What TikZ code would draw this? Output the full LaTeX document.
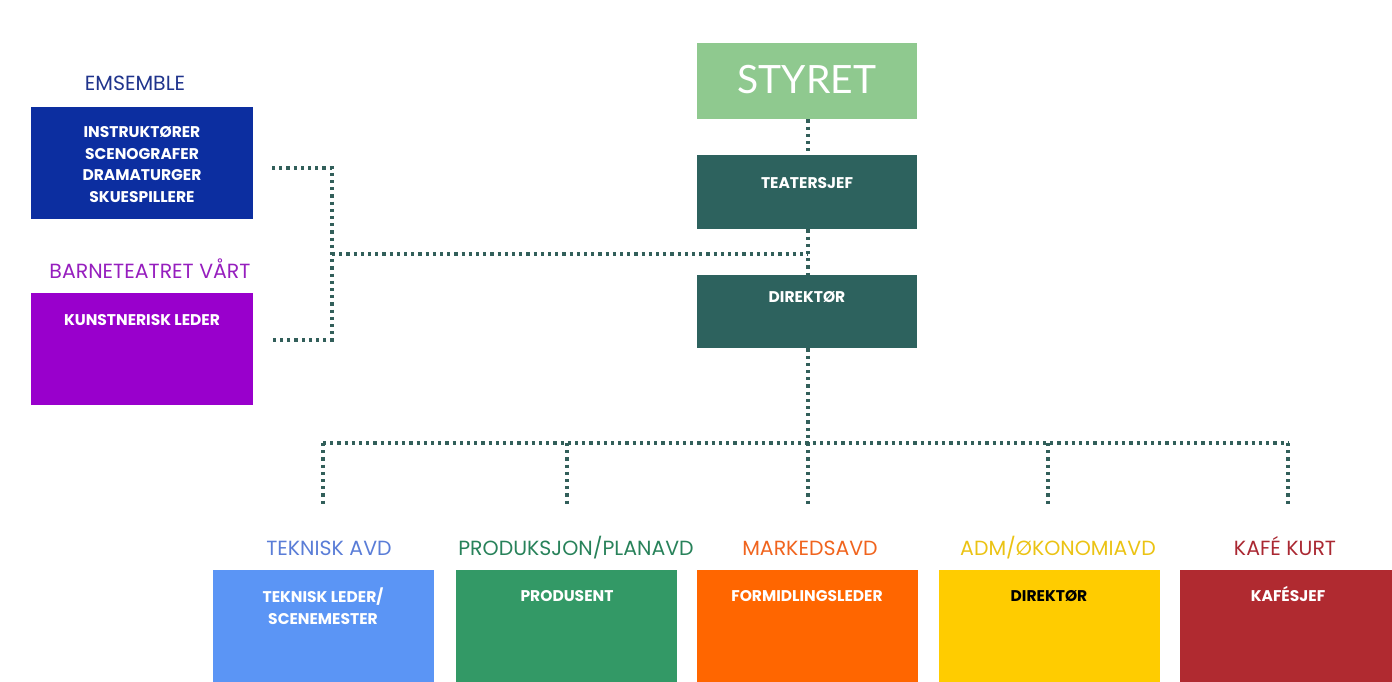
\documentclass[tikz,border=0pt]{standalone}
\usepackage{fontspec}
\setmainfont{Poppins}
\newfontfamily\latofont{Lato}
\definecolor{ensblue}{RGB}{12,46,160}
\definecolor{enslab}{RGB}{32,52,140}
\definecolor{purp}{RGB}{153,0,204}
\definecolor{purplab}{RGB}{150,30,190}
\definecolor{styr}{RGB}{143,201,143}
\definecolor{teal}{RGB}{45,98,94}
\definecolor{dotc}{RGB}{50,95,90}
\definecolor{tblue}{RGB}{91,149,245}
\definecolor{tbluelab}{RGB}{90,125,215}
\definecolor{pgreen}{RGB}{51,153,102}
\definecolor{pgreenlab}{RGB}{40,130,90}
\definecolor{morange}{RGB}{255,102,0}
\definecolor{moranglab}{RGB}{240,100,30}
\definecolor{ayellow}{RGB}{255,204,0}
\definecolor{ayellab}{RGB}{235,195,20}
\definecolor{kred}{RGB}{176,42,48}
\definecolor{kredlab}{RGB}{170,40,50}
\tikzset{
  box/.style={rectangle, inner sep=0pt, minimum width=221pt, anchor=north west},
  boxtext/.style={anchor=center, inner sep=0pt, align=center, text=white, font=\fontsize{15.5}{21.7}\selectfont\bfseries, text height=10.8pt, text depth=0pt},
  multitext/.style={anchor=center, inner sep=0pt, align=center, text=white, font=\fontsize{15.5}{21.7}\selectfont\bfseries},
  headlab/.style={inner sep=0pt, anchor=center, font=\fontsize{20.5}{22}\selectfont, text height=14pt, text depth=0pt},
  dotline/.style={draw=dotc, line width=3.2pt, dash pattern=on 3.2pt off 4pt},
}
\begin{document}
\begin{tikzpicture}[x=1pt,y=-1pt]
\useasboundingbox (0,0) rectangle (1392,682);
% left groups
\node[headlab, text=enslab] (enslab) at (135,84) {EMSEMBLE};
\node[box, fill=ensblue, minimum width=222pt, minimum height=112pt] (ens) at (31,107) {};
\node[multitext] (enstext) at (142,164.5) {INSTRUKTØRER\\SCENOGRAFER\\DRAMATURGER\\SKUESPILLERE};
\node[headlab, text=purplab] (barnlab) at (150,271) {BARNETEATRET VÅRT};
\node[box, fill=purp, minimum width=222pt, minimum height=112pt] (barn) at (31,293) {};
\node[boxtext] (barntext) at (142,320) {KUNSTNERISK LEDER};
% centre column
\node[box, fill=styr, minimum width=220pt, minimum height=76pt] (styret) at (697,43) {};
\node[inner sep=0pt, text=white, font=\latofont\fontsize{39}{40}\selectfont, text height=28pt, text depth=0pt] (styrettext) at (807,80) {STYRET};
\node[box, fill=teal, minimum width=220pt, minimum height=74pt] (teater) at (697,155) {};
\node[boxtext] (teatertext) at (807,183) {TEATERSJEF};
\node[box, fill=teal, minimum width=220pt, minimum height=73pt] (dir) at (697,275) {};
\node[boxtext] (dirtext) at (807,297) {DIREKTØR};
% bottom departments
\node[box, fill=tblue, minimum width=221pt, minimum height=112pt] (tek) at (213,570) {};
\node[box, fill=pgreen, minimum width=221pt, minimum height=112pt] (prod) at (456,570) {};
\node[box, fill=morange, minimum width=221pt, minimum height=112pt] (mark) at (697,570) {};
\node[box, fill=ayellow, minimum width=221pt, minimum height=112pt] (adm) at (939,570) {};
\node[box, fill=kred, minimum width=212pt, minimum height=112pt] (kafe) at (1180,570) {};
\node[headlab, text=tbluelab] (teklab) at (329,548) {TEKNISK AVD};
\node[headlab, text=pgreenlab] (prodlab) at (576,548) {PRODUKSJON/PLANAVD};
\node[headlab, text=moranglab] (marklab) at (810,548) {MARKEDSAVD};
\node[headlab, text=ayellab] (admlab) at (1058,548) {ADM/ØKONOMIAVD};
\node[headlab, text=kredlab] (kafelab) at (1285,548) {KAFÉ KURT};
\node[multitext] (tektext) at (323,606) {TEKNISK LEDER/\\SCENEMESTER};
\node[boxtext] (prodtext) at (567,596) {PRODUSENT};
\node[boxtext] (marktext) at (807,596) {FORMIDLINGSLEDER};
\node[boxtext, text=black] (admtext) at (1049,596) {DIREKTØR};
\node[boxtext] (kafetext) at (1288,596) {KAFÉSJEF};
% connector coordinates
\coordinate (bl1) at (272,168);
\coordinate (bl2) at (332,168);
\coordinate (bl3) at (332,340);
\coordinate (bl4) at (272,340);
\coordinate (blm) at (332,254);
\coordinate (cm) at (808,254);
\coordinate (hub) at (808,443);
\coordinate (h1) at (323,443);
\coordinate (h2) at (567,443);
\coordinate (h4) at (1048,443);
\coordinate (h5) at (1288,443);
\coordinate (d1) at (323,505);
\coordinate (d2) at (567,505);
\coordinate (d3) at (808,505);
\coordinate (d4) at (1048,505);
\coordinate (d5) at (1288,505);
% connectors
\draw[dotline] (bl1) -- (bl2) -- (bl3) -- (bl4);
\draw[dotline] (blm) -- (cm);
\draw[dotline] (styret.south -| cm) -- (teater.north -| cm);
\draw[dotline] (teater.south -| cm) -- (dir.north -| cm);
\draw[dotline] (dir.south -| cm) -- (hub);
\draw[dotline] (h1) -- (h5);
\draw[dotline] (h1) -- (d1);
\draw[dotline] (h2) -- (d2);
\draw[dotline] (hub) -- (d3);
\draw[dotline] (h4) -- (d4);
\draw[dotline] (h5) -- (d5);
\end{tikzpicture}
\end{document}
